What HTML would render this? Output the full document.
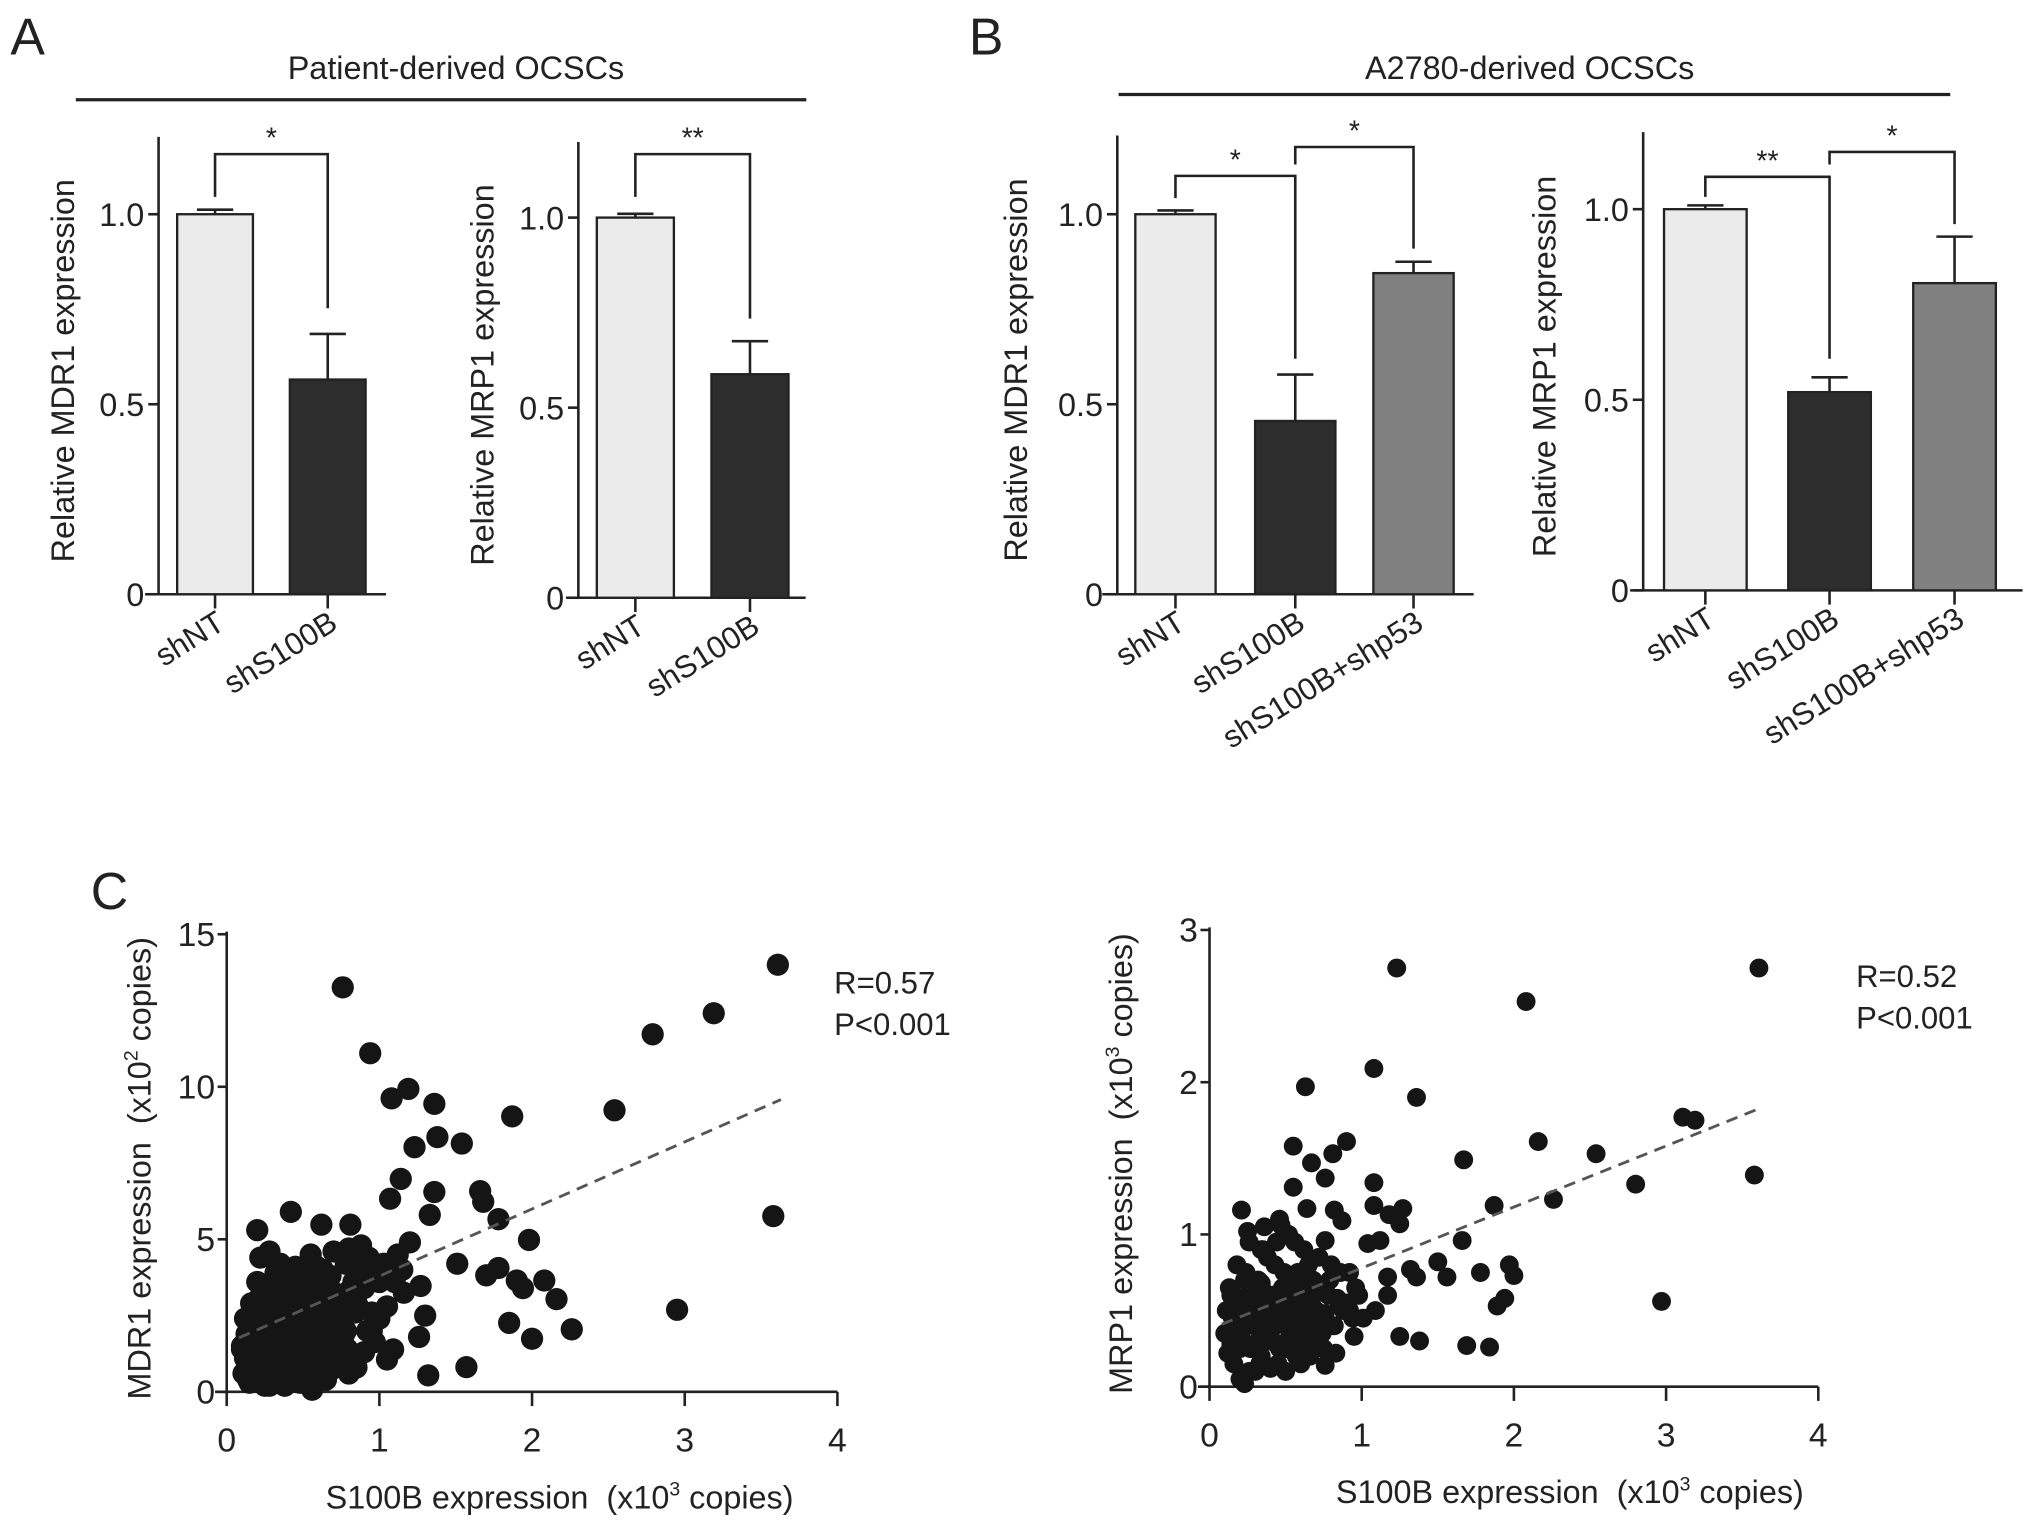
<!DOCTYPE html>
<html><head><meta charset="utf-8"><style>
html,body{margin:0;padding:0;background:#fff}
svg{display:block}
text{font-family:"Liberation Sans",Arial,sans-serif;fill:#222}
</style></head><body>
<svg id="fig" width="2031" height="1525" viewBox="0 0 1568 1177.4" xmlns="http://www.w3.org/2000/svg">
<text x="8" y="42" font-size="40">A</text>
<text x="748" y="42" font-size="40">B</text>
<text x="70" y="702" font-size="40">C</text>
<text x="352" y="61" font-size="25" text-anchor="middle">Patient-derived OCSCs</text>
<line x1="58.5" y1="77" x2="622.5" y2="77" stroke="#222" stroke-width="2.5"/>
<text x="1181" y="61" font-size="25" text-anchor="middle">A2780-derived OCSCs</text>
<line x1="863.6" y1="73" x2="1505.7" y2="73" stroke="#222" stroke-width="2.5"/>
<g id="charts"></g>
</svg>
<script>
// ---- Bar chart data ----
const catsA = ["shNT","shS100B"];
const catsB = ["shNT","shS100B","shS100B+shp53"];
const a1Vals = [1.0, 0.565];
const a1Errs = [0.012, 0.12];
const a2Vals = [1.0, 0.588];
const a2Errs = [0.01, 0.087];
const b1Vals = [1.0, 0.456, 0.845];
const b1Errs = [0.01, 0.122, 0.03];
const b2Vals = [1.0, 0.52, 0.806];
const b2Errs = [0.01, 0.039, 0.122];
const barTicks = ["0","0.5","1.0"];
const barTickVals = [0, 0.5, 1.0];

// ---- Scatter data (C1: S100B x10^3 vs MDR1 x10^2) ----
const c1X = [3.61,0.76,3.19,2.79,0.94,2.54,1.19,1.08,1.36,1.87,1.38,1.23,1.54,1.14,1.36,1.07,1.66,1.68,1.33,1.78,3.58,1.98,0.42,0.2,0.62,0.81,1.51,1.70,1.78,2.08,1.90,1.94,2.16,2.95,1.85,2.0,2.26,1.3,1.27,1.16,1.26,0.97,1.09,1.05,1.57,1.32,0.56,0.84,0.68,
0.12,0.15,0.18,0.2,0.22,0.25,0.28,0.3,0.33,0.35,0.38,0.4,0.43,0.45,0.48,0.5,0.52,0.55,0.58,0.6,0.63,0.65,0.68,0.7,0.73,0.75,0.78,0.8,0.83,0.85,0.88,0.9,0.93,0.95,0.98,1.0,1.03,
0.14,0.17,0.21,0.24,0.27,0.31,0.34,0.37,0.41,0.44,0.47,0.51,0.54,0.57,0.61,0.64,0.67,0.71,0.74,0.77,
0.13,0.16,0.19,0.23,0.26,0.29,0.32,0.36,0.39,0.42,0.46,0.49,0.53,0.56,0.59,0.62,0.66,0.69,0.72,0.79,0.86,0.92,
0.11,0.15,0.2,0.25,0.3,0.35,0.4,0.45,0.5,0.55,0.6,0.65,0.7,0.1,0.18,0.28,0.38,0.48,0.26,0.36,0.46,0.22,0.32,0.6,0.9,1.12,1.2,0.88,0.82,
0.12,0.16,0.2,0.24,0.28,0.32,0.36,0.4,0.44,0.48,0.52,0.56,0.6,0.64,0.68,0.72,0.76,0.8,0.84,
0.14,0.18,0.22,0.26,0.3,0.34,0.38,0.42,0.46,0.5,0.54,0.58,0.62,0.66,0.7,0.74,0.78,
0.1,0.15,0.2,0.25,0.3,0.35,0.4,0.45,0.5,0.55,0.6,0.65,0.7,0.75,0.8,0.85,0.9,0.95,1.0,1.05,1.1,1.15];
const c1Y = [14.0,13.26,12.41,11.72,11.1,9.23,9.93,9.62,9.44,9.03,8.35,8.02,8.14,6.98,6.55,6.33,6.58,6.23,5.8,5.66,5.76,4.98,5.9,5.3,5.48,5.48,4.2,3.82,4.06,3.65,3.65,3.4,3.04,2.69,2.26,1.74,2.05,2.5,3.47,3.25,1.8,1.63,1.39,1.06,0.81,0.54,0.07,0.78,0.71,
1.1,0.8,2.2,3.6,4.4,1.9,4.6,0.6,3.2,4.2,2.8,3.9,1.5,4.1,3.0,2.4,3.7,4.5,2.1,3.3,4.0,2.7,3.8,4.6,3.1,2.5,4.2,4.7,3.6,2.9,4.3,3.4,4.4,2.6,3.9,3.6,4.2,
0.4,1.6,0.9,2.6,0.5,1.2,2.0,1.0,1.7,0.7,2.3,1.1,1.8,0.9,2.6,1.3,2.9,1.6,2.2,1.9,
1.9,2.9,1.4,1.7,3.3,2.2,2.5,3.0,0.3,2.7,3.4,3.5,2.9,3.6,4.1,1.2,3.1,3.3,2.0,1.4,2.8,2.0,
0.6,0.3,0.5,0.2,0.9,0.4,0.8,0.6,0.5,0.9,0.6,1.0,1.2,1.5,1.3,0.2,0.2,0.3,1.5,2.1,2.2,0.9,3.9,2.6,3.8,4.5,4.9,4.8,4.4,
2.4,1.2,3.0,2.0,1.4,2.7,1.8,3.4,2.3,1.5,3.6,2.0,1.6,3.1,1.9,2.8,2.2,3.3,2.6,
0.8,2.3,1.7,1.0,3.5,2.9,1.3,2.5,3.8,1.9,2.6,1.2,3.4,2.4,1.6,3.0,2.0,
1.4,0.5,0.4,0.7,0.3,0.6,0.4,0.8,0.3,0.5,1.0,0.4,1.1,0.9,0.6,0.8,1.3,2.0,2.4,2.8,3.6,4.0];
// ---- Scatter data (C2: S100B x10^3 vs MRP1 x10^3) ----
const c2X = [1.23,3.61,2.08,1.08,0.63,1.36,3.11,3.19,0.9,2.16,0.55,2.54,0.81,1.67,0.67,0.76,3.58,2.80,1.08,0.55,2.26,1.87,1.08,1.18,1.27,0.64,0.21,0.82,0.87,1.25,0.47,0.25,1.66,0.76,1.04,1.12,0.34,1.5,1.97,2.0,1.78,1.56,1.32,1.36,1.17,2.97,1.94,1.89,1.25,1.38,1.69,1.84,0.83,0.76,0.23,0.95,1.01,1.09,1.17,
0.1,0.12,0.14,0.16,0.18,0.2,0.22,0.24,0.26,0.28,0.3,0.32,0.34,0.36,0.38,0.4,0.42,0.44,0.46,0.48,0.5,0.52,0.54,0.56,0.58,0.6,0.62,0.64,0.66,0.68,0.7,0.72,0.74,0.78,0.82,0.86,0.9,0.94,0.98,
0.11,0.15,0.19,0.23,0.27,0.31,0.35,0.39,0.43,0.47,0.51,0.55,0.59,0.63,0.67,0.71,0.75,0.8,0.85,0.92,
0.13,0.17,0.21,0.25,0.29,0.33,0.37,0.41,0.45,0.49,0.53,0.57,0.61,0.65,0.69,0.73,0.79,0.88,0.96,
0.2,0.3,0.4,0.5,0.6,0.7,0.36,0.46,0.56,0.26,0.16,
0.12,0.16,0.2,0.24,0.28,0.32,0.36,0.4,0.44,0.48,0.52,0.56,0.6,0.64,0.68,0.72,0.76,0.8,
0.14,0.18,0.22,0.26,0.3,0.34,0.38,0.42,0.46,0.5,0.54,0.58,0.62,0.7,0.84,0.92];
const c2Y = [2.75,2.75,2.53,2.09,1.97,1.90,1.77,1.75,1.61,1.61,1.58,1.53,1.53,1.49,1.47,1.37,1.39,1.33,1.34,1.31,1.23,1.19,1.19,1.13,1.17,1.17,1.16,1.16,1.09,1.07,1.06,1.02,0.96,0.96,0.94,0.96,0.9,0.82,0.8,0.73,0.75,0.72,0.77,0.72,0.72,0.56,0.58,0.53,0.33,0.3,0.27,0.26,0.22,0.14,0.02,0.33,0.45,0.5,0.6,
0.35,0.22,0.6,0.15,0.8,0.45,0.3,0.75,0.1,0.55,0.4,0.7,0.2,0.6,0.85,0.35,0.5,0.95,0.25,0.65,0.4,1.0,0.55,0.3,0.75,0.6,0.9,0.45,0.2,0.7,0.5,0.85,0.35,0.6,0.4,0.75,0.55,0.45,0.6,
0.5,0.45,0.35,0.7,0.25,0.55,0.9,0.45,0.8,0.5,0.3,0.65,0.5,0.35,0.55,0.65,0.25,0.8,0.55,0.75,
0.65,0.3,0.5,0.4,0.65,0.15,0.45,0.6,0.15,0.75,0.55,0.2,0.65,0.8,0.35,0.45,0.7,0.5,0.65,
0.05,0.1,0.12,0.1,0.15,0.35,1.05,1.1,0.95,0.95,0.6,
0.5,0.4,0.25,0.55,0.42,0.3,0.62,0.38,0.28,0.42,0.5,0.38,0.48,0.28,0.42,0.32,0.48,0.4,
0.28,0.55,0.58,0.48,0.52,0.68,0.3,0.55,0.62,0.25,0.42,0.52,0.36,0.42,0.58,0.5];
const c1YTicks = [0,5,10,15];
const c2YTicks = [0,1,2,3];
const xTicksC = [0,1,2,3,4];
const c1Fit = [[0.08,1.77],[3.63,9.58]];
const c2Fit = [[0.08,0.41],[3.62,1.83]];

const NS="http://www.w3.org/2000/svg";
const root=document.getElementById('charts');
function mk(tag, attrs, parent, text){
  const e=document.createElementNS(NS,tag);
  for(const k in attrs) e.setAttribute(k,attrs[k]);
  if(text!==undefined) e.textContent=text;
  (parent||root).appendChild(e); return e;
}
const barFills=["#ebebeb","#2d2d2d","#808080"];

function barChart(cfg, cats, vals, errs, name){
  const g=mk('g',{});
  
  
  const y=v=>cfg.y0-(cfg.y0-cfg.y1)*v;
  const ax=mk('line',{x1:cfg.ax,y1:cfg.top,x2:cfg.ax,y2:cfg.y0,stroke:'#222','stroke-width':2},g);
  
  
  const xl=mk('line',{x1:cfg.xa0,y1:cfg.y0,x2:cfg.xa1,y2:cfg.y0,stroke:'#222','stroke-width':2},g);
  
  
  barTickVals.forEach((v,i)=>{
    mk('line',{x1:cfg.ax-8,y1:y(v),x2:cfg.ax,y2:y(v),stroke:'#222','stroke-width':2},g);
    const t=mk('text',{x:cfg.ax-11,y:y(v)+9,'font-size':25,'text-anchor':'end'},g,barTicks[i]);
    
    
  });
  const tt=mk('text',{x:0,y:0,'font-size':25,'text-anchor':'middle',transform:`translate(${cfg.titleX},${(cfg.top+cfg.y0)/2+4}) rotate(-90)`},g,cfg.title);
  
  
  cats.forEach((c,i)=>{
    const cx=cfg.centers[i], w=cfg.bw;
    const r=mk('rect',{x:cx-w/2,y:y(vals[i]),width:w,height:cfg.y0-y(vals[i]),fill:barFills[i],stroke:'#222','stroke-width':1.8},g);
    
    
    const top=y(vals[i]+errs[i]);
    mk('line',{x1:cx,y1:y(vals[i]),x2:cx,y2:top,stroke:'#222','stroke-width':2},g);
    const cap=mk('line',{x1:cx-14,y1:top,x2:cx+14,y2:top,stroke:'#222','stroke-width':2},g);
    
    
    mk('line',{x1:cx,y1:cfg.y0,x2:cx,y2:cfg.y0+11,stroke:'#222','stroke-width':2},g);
    const lab=mk('text',{x:0,y:0,'font-size':24,'text-anchor':'end',transform:`translate(${cx+9},${cfg.y0+26}) rotate(-32)`},g,c);
    
    
  });
  cfg.brackets.forEach(b=>{
    const p=mk('path',{d:`M${cfg.centers[b.i]},${b.ly} V${b.y} H${cfg.centers[b.j]} V${b.ry}`,fill:'none',stroke:'#222','stroke-width':2},g);
    
    
    const s=mk('text',{x:(cfg.centers[b.i]+cfg.centers[b.j])/2,y:b.y-5,'font-size':22,'text-anchor':'middle'},g,b.s);
    
    
  });
}
barChart({ax:122.4,top:105.7,y0:458.8,y1:165.4,xa0:112,xa1:298,centers:[166,253],bw:58.5,titleX:57,title:"Relative MDR1 expression",
  brackets:[{i:0,j:1,y:119,ly:152,ry:238,s:"*"}]}, catsA, a1Vals, a1Errs, 'chart-a-mdr1');
barChart({ax:446.5,top:109.6,y0:461.5,y1:168,xa0:437,xa1:622,centers:[490.5,579],bw:59.5,titleX:381,title:"Relative MRP1 expression",
  brackets:[{i:0,j:1,y:119,ly:152,ry:246,s:"**"}]}, catsA, a2Vals, a2Errs, 'chart-a-mrp1');
barChart({ax:862.6,top:104.6,y0:458.8,y1:165.4,xa0:851,xa1:1137.7,centers:[907.5,1000,1091.3],bw:62,titleX:793,title:"Relative MDR1 expression",
  brackets:[{i:0,j:1,y:135.8,ly:153,ry:277,s:"*"},{i:1,j:2,y:113.5,ly:127,ry:192,s:"*"}]}, catsB, b1Vals, b1Errs, 'chart-b-mdr1');
barChart({ax:1268.6,top:102,y0:455.8,y1:161.5,xa0:1258.5,xa1:1561.5,centers:[1316.6,1412.5,1509],bw:63.8,titleX:1201,title:"Relative MRP1 expression",
  brackets:[{i:0,j:1,y:136.5,ly:152,ry:277,s:"**"},{i:1,j:2,y:117.3,ly:127,ry:173,s:"*"}]}, catsB, b2Vals, b2Errs, 'chart-b-mrp1');

function scatter(cfg, xs, ys, yTicks, fit, name){
  const g=mk('g',{});
  
  
  const sx=v=>cfg.x0+(cfg.x4-cfg.x0)*v/4;
  const sy=v=>cfg.y0-(cfg.y0-cfg.yTop)*v/cfg.ymax;
  const ya=mk('line',{x1:cfg.x0,y1:cfg.yTop-2,x2:cfg.x0,y2:cfg.y0,stroke:'#222','stroke-width':2},g);
  
  
  const xa=mk('line',{x1:cfg.x0-9,y1:cfg.y0,x2:cfg.x4,y2:cfg.y0,stroke:'#222','stroke-width':2},g);
  
  
  yTicks.forEach(v=>{
    mk('line',{x1:cfg.x0-7,y1:sy(v),x2:cfg.x0,y2:sy(v),stroke:'#222','stroke-width':2},g);
    const t=mk('text',{x:cfg.x0-9,y:sy(v)+9,'font-size':26,'text-anchor':'end'},g,String(v));
    
    
  });
  xTicksC.forEach(v=>{
    mk('line',{x1:sx(v),y1:cfg.y0,x2:sx(v),y2:cfg.y0+11,stroke:'#222','stroke-width':2},g);
    const t=mk('text',{x:sx(v),y:cfg.y0+46,'font-size':26,'text-anchor':'middle'},g,String(v));
    
    
  });
  xs.forEach((x,i)=>{
    if(ys[i]===undefined) return;
    const c=mk('circle',{cx:sx(x),cy:sy(ys[i]),r:cfg.r,fill:'#151515'},g);
    
    
  });
  const f=mk('line',{x1:sx(fit[0][0]),y1:sy(fit[0][1]),x2:sx(fit[1][0]),y2:sy(fit[1][1]),stroke:'#555','stroke-width':2.2,'stroke-dasharray':'9,6'},g);
  
  
  const xt=mk('text',{x:cfg.xTitleX,y:cfg.y0+90,'font-size':25,'text-anchor':'middle'},g);
  xt.innerHTML='S100B expression&#160;&#160;(x10<tspan font-size="15" dy="-10">3</tspan><tspan dy="10"> copies)</tspan>';
  
  
  const yt=mk('text',{x:0,y:0,'font-size':25,'text-anchor':'middle',transform:`translate(${cfg.yTitleX},${(cfg.yTop+cfg.y0)/2+4}) rotate(-90)`},g);
  yt.innerHTML=cfg.yTitle+'&#160;&#160;(x10<tspan font-size="15" dy="-10">'+cfg.exp+'</tspan><tspan dy="10"> copies)</tspan>';
  
  
  const r1=mk('text',{x:cfg.statX,y:cfg.statY,'font-size':24},g,cfg.R);
  
  
  const p1=mk('text',{x:cfg.statX,y:cfg.statY+32,'font-size':24},g,'P<0.001');
  
  
}
scatter({x0:175,x4:646.5,y0:1074.6,yTop:721.3,ymax:15,r:8.6,xTitleX:432,yTitleX:116,yTitle:'MDR1 expression',exp:'2',statX:644,statY:767,R:'R=0.57'},
  c1X,c1Y,c1YTicks,c1Fit,'scatter-mdr1');
scatter({x0:933.8,x4:1403.8,y0:1070.6,yTop:718,ymax:3,r:7.3,xTitleX:1212,yTitleX:874,yTitle:'MRP1 expression',exp:'3',statX:1433,statY:762,R:'R=0.52'},
  c2X,c2Y,c2YTicks,c2Fit,'scatter-mrp1');
</script>
</body></html>
